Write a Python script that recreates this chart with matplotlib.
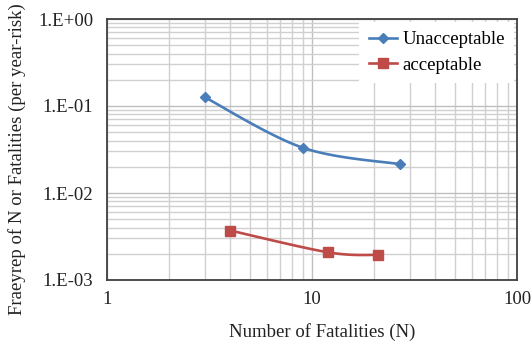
import numpy as np
import matplotlib
matplotlib.use("Agg")
import matplotlib.pyplot as plt
from matplotlib.ticker import LogLocator, FixedLocator, FixedFormatter, NullFormatter

plt.rcParams['font.family'] = ['Liberation Serif', 'DejaVu Serif']

unacc_x = [3, 9, 27]
unacc_y = [0.126, 0.0332, 0.0214]
acc_x = [4, 12, 21]
acc_y = [0.0037, 0.00208, 0.00194]

x_ticks = [1, 10, 100]
x_labels = ["1", "10", "100"]
y_ticks = [1e-3, 1e-2, 1e-1, 1e0]
y_labels = ["1.E-03", "1.E-02", "1.E-01", "1.E+00"]


def smooth(xs, ys, n=40):
    # Catmull-Rom style Bezier smoothing in log space (like Excel's smoothed line)
    lx = np.log10(xs); ly = np.log10(ys)
    P = np.column_stack([lx, ly])
    out = []
    m = len(P)
    for i in range(m - 1):
        p0 = P[i - 1] if i > 0 else P[i]
        p1 = P[i]
        p2 = P[i + 1]
        p3 = P[i + 2] if i + 2 < m else P[i + 1]
        c1 = p1 + (p2 - p0) / 6
        c2 = p2 - (p3 - p1) / 6
        t = np.linspace(0, 1, n)[:, None]
        seg = ((1 - t) ** 3) * p1 + 3 * ((1 - t) ** 2) * t * c1 + 3 * (1 - t) * t ** 2 * c2 + t ** 3 * p2
        out.append(seg if i == 0 else seg[1:])
    s = np.vstack(out)
    return 10 ** s[:, 0], 10 ** s[:, 1]


FS = 13.5
W, H = 532, 347
fig = plt.figure(figsize=(5.32, 3.47), dpi=100)
ax = fig.add_axes([107 / W, 67 / H, 410 / W, 261 / H])
ax.set_xscale('log')
ax.set_yscale('log')
ax.set_xlim(1, 100)
ax.set_ylim(1e-3, 1)

blue = '#4a7ebb'
red = '#be4b48'

sx, sy = smooth(unacc_x, unacc_y)
ax.plot(sx, sy, color=blue, lw=1.9, zorder=3)
ax.plot(unacc_x, unacc_y, ls='none', marker='D', ms=5.5, color=blue, zorder=4)
ax.plot([], [], color=blue, lw=1.9, marker='D', ms=5.0, label='Unacceptable')

sx, sy = smooth(acc_x, acc_y)
ax.plot(sx, sy, color=red, lw=1.9, zorder=3)
ax.plot(acc_x, acc_y, ls='none', marker='s', ms=7.5, color=red, zorder=4)
ax.plot([], [], color=red, lw=1.9, marker='s', ms=7.5, label='acceptable')

ax.xaxis.set_major_locator(FixedLocator(x_ticks))
ax.xaxis.set_major_formatter(FixedFormatter(x_labels))
ax.yaxis.set_major_locator(FixedLocator(y_ticks))
ax.yaxis.set_major_formatter(FixedFormatter(y_labels))
ax.xaxis.set_minor_locator(LogLocator(base=10, subs=np.arange(2, 10)))
ax.yaxis.set_minor_locator(LogLocator(base=10, subs=np.arange(2, 10)))
ax.xaxis.set_minor_formatter(NullFormatter())
ax.yaxis.set_minor_formatter(NullFormatter())

ax.grid(which='major', color='#bfbfbf', lw=1.0, zorder=0)
ax.grid(which='minor', color='#d0d0d0', lw=1.0, zorder=0)
ax.set_axisbelow(True)
ax.tick_params(which='both', length=0, labelsize=FS, colors='#222222')
ax.tick_params(axis='x', pad=8)
ax.tick_params(axis='y', pad=10)
for sp in ax.spines.values():
    sp.set_color('#404040')
    sp.set_linewidth(1.3)

fig.text(322.5 / W, 1 - 332 / H, 'Number of Fatalities (N)', fontsize=FS,
         ha='center', va='center', color='#222222')
fig.text(17 / W, 1 - 159 / H, 'Fraeyrep of N or Fatalities (per year-risk)', fontsize=FS,
         ha='center', va='center', rotation=90, color='#222222')

leg = ax.legend(loc='upper right', bbox_to_anchor=(1.0, 1.0), fontsize=FS, frameon=True,
                fancybox=False, edgecolor='none', facecolor='white', framealpha=1,
                borderaxespad=0.15, borderpad=0.5, handlelength=1.5, handletextpad=0.3,
                labelspacing=0.45)

fig.savefig('out.png', dpi=100)
